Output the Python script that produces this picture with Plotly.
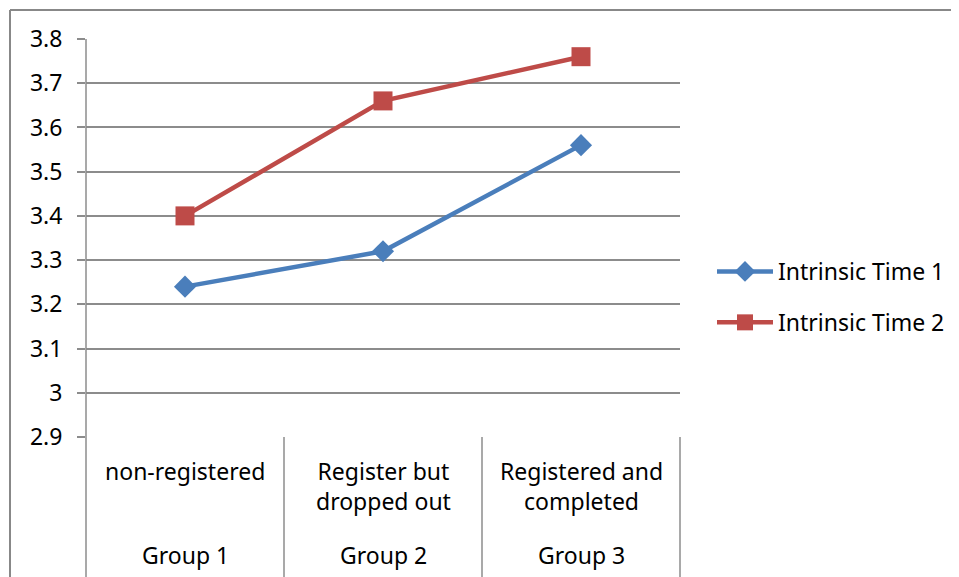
import plotly.graph_objects as go

categories = ["non-registered", "Register but<br>dropped out", "Registered and<br>completed"]
groups = ["Group 1", "Group 2", "Group 3"]
time1 = [3.24, 3.32, 3.56]
time2 = [3.40, 3.66, 3.76]
y_ticks = [2.9, 3.0, 3.1, 3.2, 3.3, 3.4, 3.5, 3.6, 3.7, 3.8]
y_tick_text = ["2.9", "3", "3.1", "3.2", "3.3", "3.4", "3.5", "3.6", "3.7", "3.8"]

FONT = "Noto Sans"
GRID = "#8c8c8c"
FS = 23
xs = list(range(len(categories)))

fig = go.Figure()
fig.add_trace(go.Scatter(
    x=xs, y=time1, name="Intrinsic Time 1", mode="lines+markers",
    line=dict(color="#4a7ebb", width=4.5),
    marker=dict(symbol="diamond", size=17, color="#4a7ebb"),
    legendgroup="a"))
fig.add_trace(go.Scatter(
    x=xs, y=time2, name="Intrinsic Time 2", mode="lines+markers",
    line=dict(color="#be4b48", width=4.5),
    marker=dict(symbol="square", size=19, color="#be4b48"),
    legendgroup="b"))

# page body has an 8px margin; figure coordinates are page - 8
L, R, T, B = 78, 672, 31, 429
W, H = 959, 577
PW, PH = R - L, B - T

fig.update_layout(
    width=W, height=H,
    margin=dict(l=L, r=W - R, t=T, b=H - B),
    plot_bgcolor="white", paper_bgcolor="white",
    font=dict(family=FONT, size=FS, color="black"),
    xaxis=dict(range=[-0.5, len(categories) - 0.5], showticklabels=False,
               showgrid=False, zeroline=False, showline=False, fixedrange=True),
    yaxis=dict(range=[2.9, 3.8], tickvals=y_ticks, ticktext=y_tick_text,
               showgrid=True, gridcolor=GRID, gridwidth=1.5,
               ticks="outside", ticklen=8, tickcolor=GRID, tickwidth=1.5,
               showline=False, zeroline=False, tickfont=dict(size=FS),
               ticklabelstandoff=10),
    legend=dict(x=1.0 + 32 / PW, xref="paper", xanchor="left",
                y=0.5 - 59 / PH, yanchor="middle",
                font=dict(size=FS), tracegroupgap=18, itemwidth=56,
                bgcolor="rgba(0,0,0,0)"),
    showlegend=True,
)

shapes = []
# outer border of chart area
shapes.append(dict(type="line", xref="paper", yref="paper",
                   x0=(2 - L) / PW, x1=(W + 5 - L) / PW,
                   y0=(B - 2) / PH, y1=(B - 2) / PH,
                   line=dict(color="#888888", width=2)))
shapes.append(dict(type="line", xref="paper", yref="paper",
                   x0=(2 - L) / PW, x1=(2 - L) / PW,
                   y0=(B - 2) / PH, y1=(B - H - 5) / PH,
                   line=dict(color="#888888", width=2)))
# y axis line extended down through category labels
shapes.append(dict(type="line", xref="paper", yref="paper",
                   x0=0, x1=0, y0=1, y1=(B - H) / PH,
                   line=dict(color=GRID, width=1.5)))
# category dividers below axis
for i in range(len(categories)):
    xp = (i + 1) / len(categories)
    shapes.append(dict(type="line", xref="paper", yref="paper",
                       x0=xp, x1=xp, y0=0, y1=(B - H) / PH,
                       line=dict(color=GRID, width=1.5)))
fig.update_layout(shapes=shapes)

ann = []
for i, (c, g) in enumerate(zip(categories, groups)):
    ann.append(dict(x=i, xref="x", y=-(453 - 8 - B) / PH, yref="paper",
                    text=c, showarrow=False, yanchor="top",
                    font=dict(size=FS), align="center"))
    ann.append(dict(x=i, xref="x", y=-(555 - 8 - B) / PH, yref="paper",
                    text=g, showarrow=False, yanchor="middle",
                    font=dict(size=FS)))
fig.update_layout(annotations=ann)

fig.write_html("out.html")
